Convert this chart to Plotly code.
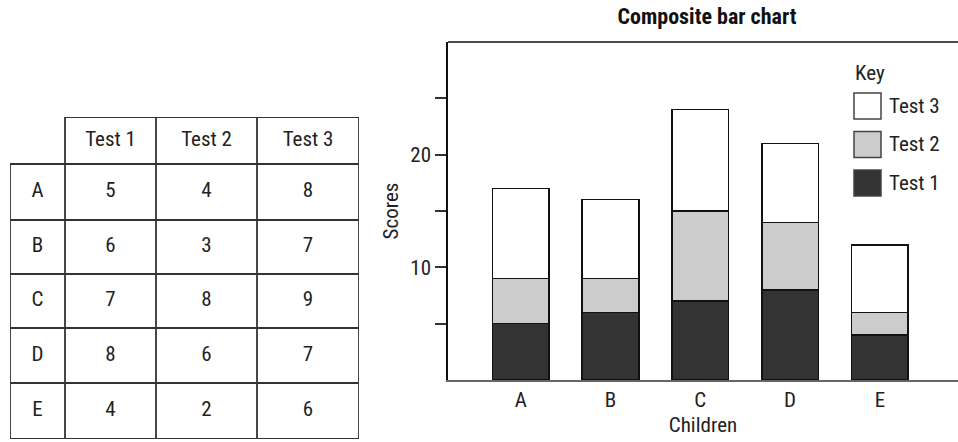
import itertools
import plotly.graph_objects as go

# Scores per child for each test
children = ["A", "B", "C", "D", "E"]
test1 = [5, 6, 7, 8, 4]
test2 = [4, 3, 8, 6, 2]
test3 = [8, 7, 9, 7, 6]
tests = ["Test 1", "Test 2", "Test 3"]
colors = ["#333333", "#cccccc", "#ffffff"]
y_ticks = [5, 10, 15, 20, 25]
y_tick_labels = ["", "10", "", "20", ""]

FONT = "Liberation Sans Narrow, Roboto Condensed, Liberation Sans, Arial"
FS = 21
W, H = 958, 442


def px_x(v):
    return v / W


def px_y(v):
    return 1 - v / H


fig = go.Figure()

# ---- Data table on the left, laid out on its own pixel-unit axes ----
col_w = [55, 91, 101, 102]
row_h = [47, 56, 54, 54, 55, 56]
col_edges = list(itertools.accumulate([0] + col_w))
row_edges = list(itertools.accumulate([0] + row_h))
col_mid = [(a + b) / 2 for a, b in zip(col_edges[:-1], col_edges[1:])]
row_mid = [(a + b) / 2 for a, b in zip(row_edges[:-1], row_edges[1:])]

columns = [[""] + children] + [[t] + v for t, v in zip(tests, [test1, test2, test3])]
cell_x, cell_y, cell_text = [], [], []
for ci, col in enumerate(columns):
    for ri, val in enumerate(col):
        if val == "":
            continue
        cell_x.append(col_mid[ci])
        cell_y.append(row_mid[ri])
        cell_text.append(str(val))

fig.add_trace(go.Scatter(
    x=cell_x, y=cell_y, text=cell_text, mode="text",
    textposition="middle center",
    textfont=dict(family=FONT, size=FS, color="#222222"),
    xaxis="x2", yaxis="y2", showlegend=False, hoverinfo="skip",
))

grid = dict(color="#333333", width=1.8)
# horizontal rules (header row has no top-left corner cell)
fig.add_shape(type="line", xref="x2", yref="y2",
              x0=col_edges[1], x1=col_edges[-1], y0=0, y1=0, line=grid)
for ry in row_edges[1:]:
    fig.add_shape(type="line", xref="x2", yref="y2",
                  x0=0, x1=col_edges[-1], y0=ry, y1=ry, line=grid)
# vertical rules
fig.add_shape(type="line", xref="x2", yref="y2",
              x0=0, x1=0, y0=row_edges[1], y1=row_edges[-1], line=grid)
for cx in col_edges[1:]:
    fig.add_shape(type="line", xref="x2", yref="y2",
                  x0=cx, x1=cx, y0=0, y1=row_edges[-1], line=grid)

# ---- Stacked bars ----
for name, vals, col in zip(tests, [test1, test2, test3], colors):
    fig.add_trace(go.Bar(
        x=children, y=vals, name=name,
        marker=dict(color=col, line=dict(color="#111111", width=1.5)),
        width=0.63, showlegend=False,
    ))

fig.update_layout(
    width=W, height=H,
    margin=dict(l=0, r=0, t=0, b=0),
    paper_bgcolor="white", plot_bgcolor="white",
    barmode="stack",
    font=dict(family=FONT, size=FS, color="#222222"),
    xaxis=dict(
        domain=[px_x(448), 1.0],
        range=[-0.81, 4.87],
        showgrid=False, zeroline=False,
        showline=True, linecolor="#666666", linewidth=2,
        ticks="", tickfont=dict(size=FS),
        title=dict(text="Children", font=dict(size=FS), standoff=6),
    ),
    yaxis=dict(
        domain=[px_y(380), px_y(42)],
        range=[0, 30],
        showgrid=False, zeroline=False,
        showline=True, linecolor="#111111", linewidth=1.5,
        ticks="outside", ticklen=11, tickwidth=1.5, tickcolor="#333333",
        tickvals=y_ticks, ticktext=y_tick_labels,
        tickfont=dict(size=FS),
        title=dict(text="Scores", font=dict(size=FS), standoff=6),
    ),
    xaxis2=dict(
        domain=[px_x(10), px_x(359)], range=[0, col_edges[-1]],
        visible=False, fixedrange=True, anchor="y2",
    ),
    yaxis2=dict(
        domain=[px_y(117 + row_edges[-1]), px_y(117)], range=[row_edges[-1], 0],
        visible=False, fixedrange=True, anchor="x2",
    ),
    title=dict(
        text="<b>Composite bar chart</b>",
        x=px_x(707), xanchor="center",
        y=px_y(16), yanchor="middle",
        font=dict(family=FONT, size=22, color="#111111"),
    ),
)

# Top frame line of the plot area
fig.add_shape(type="line", xref="x domain", yref="y domain",
              x0=0, x1=1, y0=1, y1=1,
              line=dict(color="#111111", width=1.5))

# Key
fig.add_annotation(text="Key", xref="paper", yref="paper",
                   x=px_x(853), y=px_y(73), xanchor="left", yanchor="middle",
                   showarrow=False, font=dict(size=FS))
key_top = 93
key_step = 38.5
for i, (name, col) in enumerate(reversed(list(zip(tests, colors)))):
    y0 = key_top + i * key_step
    fig.add_shape(type="rect", xref="paper", yref="paper",
                  x0=px_x(854), x1=px_x(881), y0=px_y(y0), y1=px_y(y0 + 26),
                  fillcolor=col, line=dict(color="#444444", width=1.5))
    fig.add_annotation(text=name, xref="paper", yref="paper",
                       x=px_x(887), y=px_y(y0 + 13), xanchor="left", yanchor="middle",
                       showarrow=False, font=dict(size=FS))

fig.write_html("out.html")
